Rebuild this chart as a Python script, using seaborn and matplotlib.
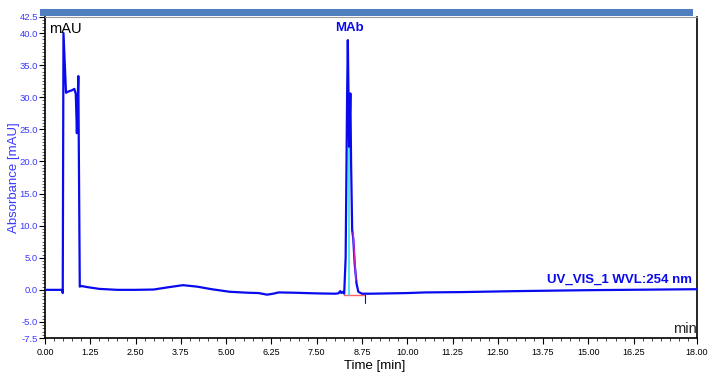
import numpy as np
import pandas as pd
import seaborn as sns
import matplotlib.pyplot as plt
from matplotlib.patches import Rectangle
from matplotlib.ticker import MultipleLocator, FixedLocator, FormatStrFormatter

# DATA ─────────────────────────────────────────────────────────────────────────
time_min = [0.00, 0.48, 0.49, 0.51, 0.58, 0.65, 0.75, 0.81, 0.85, 0.88, 0.92,
            0.96, 1.00, 1.20, 1.50, 2.00, 2.50, 3.00, 3.40, 3.81, 4.20, 4.60,
            5.10, 5.60, 5.90, 6.13, 6.30, 6.45, 6.90, 7.50, 8.00, 8.10, 8.15,
            8.18, 8.22, 8.26, 8.30, 8.34, 8.36, 8.38, 8.395, 8.42, 8.43, 8.45,
            8.48, 8.51, 8.55, 8.60, 8.65, 8.75, 9.00, 10.00, 10.50, 11.50,
            13.00, 15.00, 17.00, 18.00]
absorbance = [0.0, 0.0, -0.5, 40.0, 30.7, 30.9, 31.1, 31.3, 30.5, 24.4, 33.3,
              0.5, 0.6, 0.4, 0.15, 0.0, 0.0, 0.05, 0.4, 0.73, 0.5, 0.1,
              -0.3, -0.45, -0.5, -0.75, -0.6, -0.4, -0.45, -0.55, -0.6, -0.55, -0.2,
              -0.5, -0.3, -0.6, 5.0, 30.0, 38.9, 30.0, 22.3, 28.0, 30.6, 20.0,
              9.3, 8.0, 4.0, 1.0, -0.3, -0.6, -0.6, -0.5, -0.4, -0.35,
              -0.2, -0.05, 0.05, 0.1]

peak_name = "MAb"
peak_time = 8.36
peak_split = 8.395          # cyan drop line between the two maxima
peak_start, peak_end = 8.26, 8.83
baseline_level = -0.8
tail_marker = [(8.49, 9.0), (8.57, 1.5)]

x_ticks = [0.00, 1.25, 2.50, 3.75, 5.00, 6.25, 7.50, 8.75, 10.00, 11.25,
           12.50, 13.75, 15.00, 16.25, 18.00]
y_ticks = [-7.5, -5.0, 0.0, 5.0, 10.0, 15.0, 20.0, 25.0, 30.0, 35.0, 40.0, 42.5]

df = pd.DataFrame({"Time [min]": time_min, "Absorbance [mAU]": absorbance})

# STYLE ────────────────────────────────────────────────────────────────────────
sns.set_style("ticks")
plt.rcParams["font.family"] = ["Liberation Sans", "DejaVu Sans"]

trace_blue = "#0a0aee"
label_blue = "#3a3aff"

fig = plt.figure(figsize=(7.11, 3.73), dpi=100)
ax = fig.add_axes([45 / 711, 35 / 373, 652 / 711, 321 / 373])

# blue title strip above the plot
fig.add_artist(Rectangle((40 / 711, 357 / 373), 653 / 711, 6.5 / 373,
                         transform=fig.transFigure, color="#4f7fbe", lw=0))

# TRACE ────────────────────────────────────────────────────────────────────────
sns.lineplot(data=df, x="Time [min]", y="Absorbance [mAU]", ax=ax,
             color=trace_blue, lw=1.6, estimator=None, zorder=3)

# integration marks around the MAb peak
ax.plot([peak_start, peak_end], [baseline_level, baseline_level],
        color="#ff6060", lw=1.0, zorder=2)
ax.plot([peak_split, peak_split], [baseline_level, 22.3],
        color="#30e0f0", lw=1.2, zorder=2)
ax.plot([p[0] + 0.015 for p in tail_marker], [p[1] for p in tail_marker],
        color="#e020c0", lw=1.0, zorder=4)
ax.plot([peak_end, peak_end], [baseline_level, -2.0], color=trace_blue, lw=0.8)

ax.text(peak_time + 0.05, 40.3, peak_name, color=trace_blue, fontsize=9.5,
        fontweight="bold", ha="center", va="baseline")
ax.text(0.993, 0.172, "UV_VIS_1 WVL:254 nm", transform=ax.transAxes,
        color=trace_blue, fontsize=9.5, fontweight="bold",
        ha="right", va="baseline")
ax.text(0.006, 0.985, "mAU", transform=ax.transAxes, fontsize=10.5,
        color="black", ha="left", va="top")
ax.text(1.0, 0.016, "min", transform=ax.transAxes, fontsize=10.5,
        color="#222222", ha="right", va="baseline")

# AXES ─────────────────────────────────────────────────────────────────────────
ax.set_xlim(0, 18)
ax.set_ylim(-7.5, 42.5)
ax.xaxis.set_major_locator(FixedLocator(x_ticks))
ax.xaxis.set_minor_locator(MultipleLocator(0.25))
ax.xaxis.set_major_formatter(FormatStrFormatter("%.2f"))
ax.yaxis.set_major_locator(FixedLocator(y_ticks))
ax.yaxis.set_minor_locator(MultipleLocator(0.5))
ax.yaxis.set_major_formatter(FormatStrFormatter("%.1f"))

ax.tick_params(axis="x", which="major", length=4, width=0.8, labelsize=6.5,
               colors="black", pad=3)
ax.tick_params(axis="x", which="minor", length=2, width=0.6)
ax.tick_params(axis="y", which="major", length=4, width=0.8, labelsize=6.8,
               colors="black", labelcolor=label_blue, pad=1)
ax.tick_params(axis="y", which="minor", length=2, width=0.5)

ax.set_xlabel("")
ax.set_ylabel("")
fig.text(14 / 711, 1 - 178 / 373, "Absorbance [mAU]", rotation=90,
         color=label_blue, fontsize=9.5, ha="center", va="center")
fig.text(375 / 711, 1 - 366 / 373, "Time [min]", color="black",
         fontsize=9.5, ha="center", va="center")

for side in ["left", "bottom", "right"]:
    ax.spines[side].set_color("black")
    ax.spines[side].set_linewidth(1.2)
ax.spines["top"].set_visible(True)
ax.spines["top"].set_color("#999999")
ax.spines["top"].set_linewidth(0.8)

fig.savefig("out.png", dpi=100)
